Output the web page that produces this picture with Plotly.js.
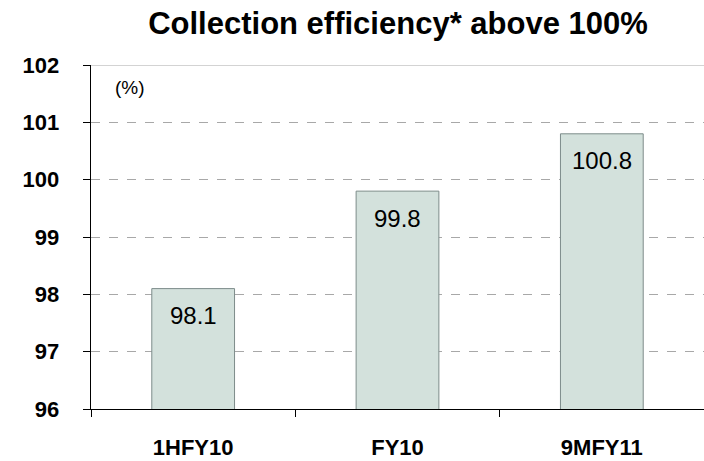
<!DOCTYPE html>
<html><head><meta charset="utf-8">
<script src="https://cdn.plot.ly/plotly-3.0.1.min.js"></script>
<style>body{margin:0;background:#fff}#c{width:704px;height:461px}</style>
</head><body><div id="c"></div>
<script>
var categories = ["1HFY10", "FY10", "9MFY11"];
var values = [98.1, 99.8, 100.8];
var labels = ["98.1", "99.8", "100.8"];
var yTicks = [96, 97, 98, 99, 100, 101, 102];

var bar = {
  type: 'bar', x: categories, y: values,
  width: 0.405,
  marker: {color: '#d3e1dc', line: {color: '#7d8c8a', width: 1}},
  hoverinfo: 'none'
};
var anns = categories.map(function(c, i){
  return {x: c, y: values[i], yref: 'y', xref: 'x', yshift: -27, showarrow: false,
    text: labels[i], font: {family: 'Liberation Sans, Arial', size: 24, color: '#000'}};
});
anns.push({xref: 'paper', yref: 'paper', x: 39/613, y: (409-87)/344, xanchor: 'center', yanchor: 'middle', showarrow: false, text: '(%)',
  font: {family: 'Liberation Sans, Arial', size: 19, color: '#000'}});

var layout = {
  width: 704, height: 461,
  margin: {l: 91, r: 0, t: 65, b: 52},
  paper_bgcolor: '#fff', plot_bgcolor: '#fff',
  title: {text: '<b>Collection efficiency* above 100%</b>', x: 398/704, xanchor: 'center', y: 1 - 23/461, yanchor: 'middle',
    font: {family: 'Liberation Sans, Arial', size: 31, color: '#000'}},
  showlegend: false,
  bargap: 0,
  xaxis: {type: 'category', range: [-0.5, 2.5], tickson: 'boundaries', ticks: 'outside', ticklen: 7,
    tickcolor: '#000', showline: true, linecolor: '#000', linewidth: 1.3, showgrid: false,
    tickfont: {family: 'Liberation Sans, Arial', size: 22, color: '#000'}, ticklabelstandoff: 18,
    tickvals: categories, ticktext: categories.map(function(s){return '<b>'+s+'</b>';})},
  yaxis: {range: [96, 102], tickvals: yTicks, ticktext: yTicks.map(function(v){return '<b>'+v+'</b>';}),
    ticks: 'outside', ticklen: 7, tickcolor: '#000',
    showline: true, linecolor: '#000', linewidth: 1.3, zeroline: false,
    showgrid: true, gridcolor: '#a8a8a8', griddash: 'dash', gridwidth: 1,
    tickfont: {family: 'Liberation Sans, Arial', size: 22, color: '#000'}, ticklabelstandoff: 19},
  annotations: anns,
  shapes: [{type: 'line', xref: 'paper', yref: 'y', x0: 0, x1: 1, y0: 102, y1: 102, line: {color: '#a8a8a8', width: 1}}]
};
Plotly.newPlot('c', [bar], layout, {displayModeBar: false, staticPlot: true});
</script></body></html>
